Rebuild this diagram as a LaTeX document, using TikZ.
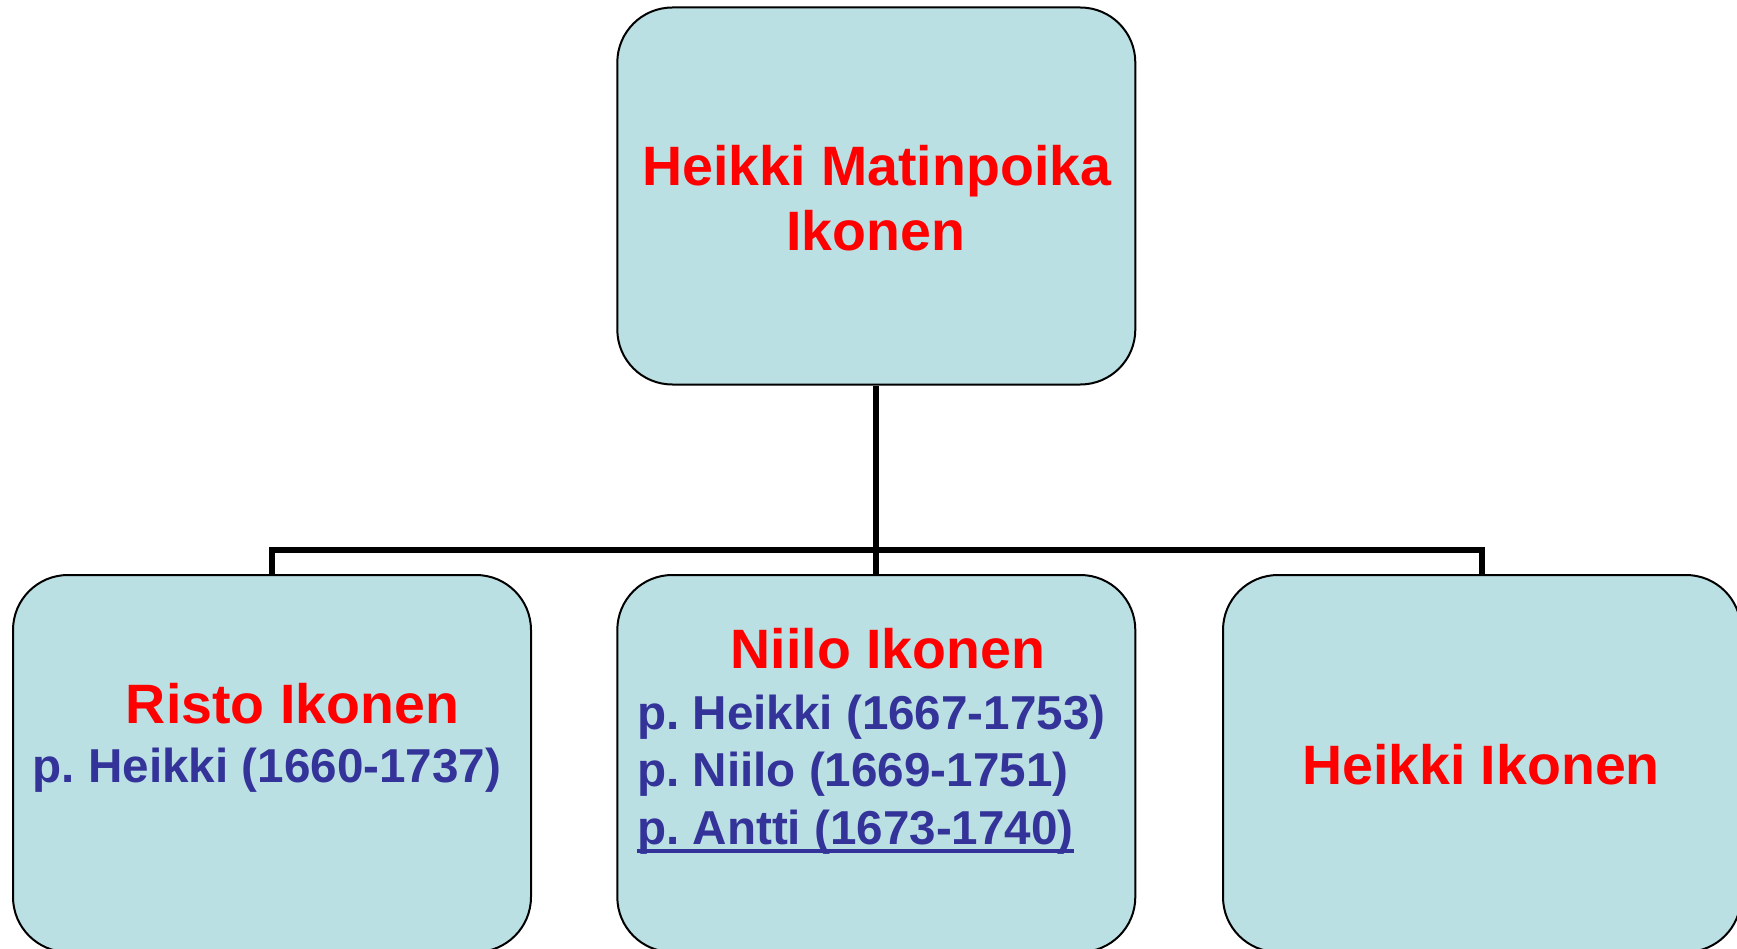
\documentclass[tikz,border=0pt]{standalone}
\usepackage{fontspec}
\setmainfont{Liberation Sans}
\frenchspacing
\definecolor{boxfill}{RGB}{187,224,227}
\definecolor{namered}{RGB}{255,0,0}
\definecolor{sonblue}{RGB}{51,51,153}
\tikzset{
 familybox/.style={draw=black, line width=2pt, fill=boxfill, rounded corners=55pt,
   minimum width=518pt, minimum height=377pt, inner sep=0pt},
 nametext/.style={text=namered, font=\fontsize{55.5}{60}\selectfont\bfseries, inner sep=0pt, anchor=base},
 sontext/.style={text=sonblue, font=\fontsize{47.6}{55}\selectfont\bfseries, inner sep=0pt, anchor=base},
 treeline/.style={black, line width=6pt},
}
\begin{document}
\begin{tikzpicture}[x=1pt, y=-1pt]
\useasboundingbox (0,0) rectangle (1737,949);
% boxes
\node[familybox] (matti) at (876.3,196) {};
\node[familybox] (risto) at (272,763.5) {};
\node[familybox] (niilo) at (876.3,763.5) {};
\node[familybox] (heikki) at (1482,763.5) {};
% tree
\coordinate (bar) at (876.3,549.5);
\draw[treeline] (matti.south) -- (bar);
\foreach \k in {risto,niilo,heikki} {
 \draw[treeline] (bar) -| (\k.north);
}
% names
\node[nametext] (mattiA) at (876.8,186) {Heikki Matinpoika};
\node[nametext] (mattiB) at (875.7,251) {Ikonen};
\node[nametext] (ristoA) at (292.5,723) {Risto Ikonen};
\node[sontext] (ristoB) at (267,782) {p. Heikki (1660-1737)};
\node[nametext] (niiloA) at (888,668) {Niilo Ikonen};
\node[sontext, anchor=base west] (niiloB) at (637,729) {p. Heikki (1667-1753)};
\node[sontext, anchor=base west] (niiloC) at (637,786.5) {p. Niilo (1669-1751)};
\node[sontext, anchor=base west] (niiloD) at (637,844) {p. Antti (1673-1740)};
\draw[sonblue, line width=3.5pt] ([yshift=-7pt]niiloD.base west) -- ([yshift=-7pt]niiloD.base east);
\node[nametext] (heikkiA) at (1481,784) {Heikki Ikonen};
\end{tikzpicture}
\end{document}
